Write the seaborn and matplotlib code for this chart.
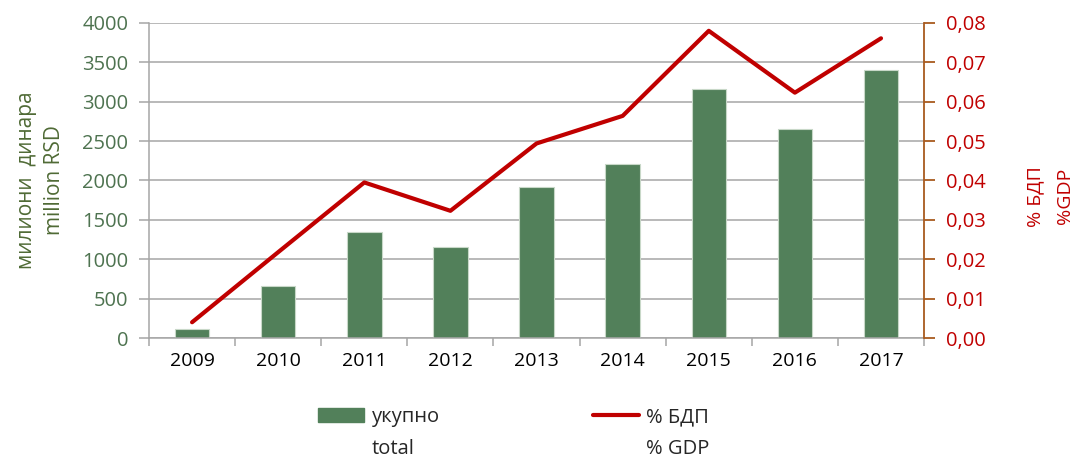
import numpy as np
import matplotlib
matplotlib.use('Agg')
import matplotlib.pyplot as plt
import matplotlib.ticker as mticker
from matplotlib.patches import Patch
from matplotlib.lines import Line2D
import seaborn as sns

sns.set_style('white')
plt.rcParams['font.family'] = ['Open Sans', 'DejaVu Sans']

# ── data ──────────────────────────────────────────────────────────────────────
years = ['2009', '2010', '2011', '2012', '2013', '2014', '2015', '2016', '2017']
total_mrsd = [110, 657, 1350, 1153, 1912, 2210, 3160, 2655, 3397]
gdp_share = [0.0040, 0.0218, 0.0395, 0.0323, 0.0494, 0.0564, 0.0780, 0.0623, 0.0761]

BAR = '#52805A'
RED = '#C00000'
BROWN = '#A85A1F'
GRID = '#A6A6A6'
GREEN_TXT = '#4E7350'

fig = plt.figure(figsize=(10.72, 4.59), dpi=100)
ax = fig.add_axes([0.139, 0.2636, 0.723, 0.6864])

sns.barplot(x=years, y=total_mrsd, color=BAR, saturation=1, width=0.4,
            edgecolor='#C8D8C8', linewidth=0.8, ax=ax, zorder=2)
ax.set_xlim(-0.5, len(years) - 0.5)
ax.set_ylim(0, 4000)
ax.set_yticks(np.arange(0, 4001, 500))
ax.yaxis.grid(True, color=GRID, lw=1.1, zorder=0)
ax.set_axisbelow(True)
ax.set_xlabel('')
ax.set_ylabel('милиони  динара\nmillion RSD', color='#4F6A35', fontsize=15,
              labelpad=12, linespacing=1.45)
ax.tick_params(axis='y', colors=GRID, labelcolor=GREEN_TXT, labelsize=14.5,
               length=7, width=1.1, pad=8, left=True)
ax.tick_params(axis='x', length=0, labelsize=14, labelcolor='black', pad=10)
ax.set_xticks(np.arange(len(years) + 1) - 0.5, minor=True)
ax.tick_params(axis='x', which='minor', bottom=True, length=6, color=GRID, width=1.1)
for s in ['top', 'right']:
    ax.spines[s].set_visible(False)
for s in ['left', 'bottom']:
    ax.spines[s].set_color(GRID)
    ax.spines[s].set_linewidth(1.1)

# ── % of GDP on right axis ───────────────────────────────────────────────────
ax2 = ax.twinx()
sns.lineplot(x=np.arange(len(years)), y=gdp_share, color=RED, lw=3, ax=ax2)
ax2.set_ylim(0, 0.08)
ax2.set_yticks(np.arange(0, 0.0801, 0.01))
ax2.yaxis.set_major_formatter(mticker.FuncFormatter(lambda v, p: f'{v:.2f}'.replace('.', ',')))
ax2.tick_params(axis='y', colors=BROWN, labelcolor=RED, labelsize=14.5,
                length=8, width=1.3, pad=8, right=True)
ax2.set_ylabel('% БДП\n%GDP', color=RED, fontsize=14, linespacing=1.8)
ax2.yaxis.set_label_coords(1.132, 0.45)
for s in ['top', 'left', 'bottom']:
    ax2.spines[s].set_visible(False)
ax2.spines['right'].set_color(BROWN)
ax2.spines['right'].set_linewidth(1.3)

# ── legend ───────────────────────────────────────────────────────────────────
blank = Line2D([], [], linestyle='none')
handles = [Patch(color=BAR), blank, Line2D([], [], color=RED, lw=3), blank]
labels = ['укупно', 'total', '% БДП', '% GDP']
fig.legend(handles, labels, ncol=2, frameon=False, loc='upper left',
           bbox_to_anchor=(0.2873, 0.135), fontsize=14.5, borderpad=0,
           handlelength=2.3, handletextpad=0.35, columnspacing=7.6,
           labelspacing=0.6)

plt.savefig('out.png', dpi=100)
